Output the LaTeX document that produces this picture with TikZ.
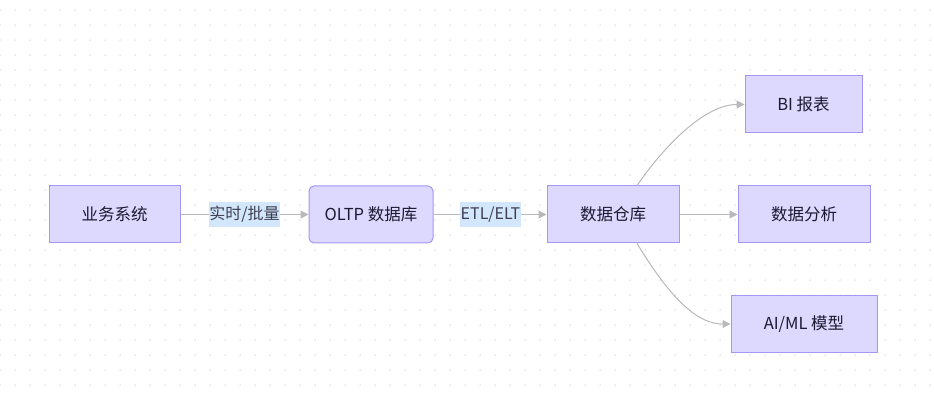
\documentclass[tikz,border=0pt]{standalone}
\usepackage{fontspec}
\setmainfont{Noto Sans CJK SC}
\usetikzlibrary{arrows.meta,calc}
\definecolor{boxfill}{HTML}{DCD8FE}
\definecolor{boxdraw}{HTML}{A297F4}
\definecolor{edgecol}{HTML}{B9B9BD}
\definecolor{lblfill}{HTML}{D2E7FC}
\definecolor{txtcol}{HTML}{1A1A30}
\definecolor{lbltxt}{HTML}{3E3E50}
\definecolor{gridcol}{HTML}{EAEAEA}
\tikzset{
  box/.style={draw=boxdraw, fill=boxfill, line width=1pt, minimum height=57pt,
    text=txtcol, font=\fontsize{16.5}{18}\selectfont, inner sep=0pt},
  rbox/.style={box, rounded corners=5pt},
  conn/.style={draw=edgecol, line width=1pt, -{Triangle[length=8pt,width=8pt]}},
  lbl/.style={fill=lblfill, text=lbltxt, font=\fontsize{16}{18}\selectfont,
    inner xsep=0.5pt, inner ysep=0pt, minimum height=25pt},
}
\begin{document}
\begin{tikzpicture}[x=1pt,y=-1pt]
\useasboundingbox (0,0) rectangle (934,395);
\fill[white] (0,0) rectangle (934,395);
\foreach \i in {0,...,62}{
  \foreach \j in {0,...,26}{
    \draw[gridcol, line width=0.6pt] ({\i*15-1.3},{10+\j*15}) -- ({\i*15+1.3},{10+\j*15})
      ({\i*15},{10+\j*15-1.3}) -- ({\i*15},{10+\j*15+1.3});
  }
}
\node[box, minimum width=131pt] (biz) at (114.5,214.5) {业务系统};
\node[rbox, minimum width=124pt] (oltp) at (371,214.5) {OLTP 数据库};
\node[box, minimum width=132pt] (dw) at (613,214.5) {数据仓库};
\node[box, minimum width=117pt] (bi) at (803.5,104.5) {BI 报表};
\node[box, minimum width=132pt] (ana) at (804,214.5) {数据分析};
\node[box, minimum width=146pt] (ai) at (804,324) {AI/ML 模型};

\draw[conn] (biz.east) -- (oltp.west);
\node[lbl] (l1) at (244.5,214.5) {实时/批量};
\draw[conn] (oltp.east) -- (dw.west);
\node[lbl] (l2) at (490.5,214.5) {ETL/ELT};
\draw[conn] (dw.east) -- (ana.west);
\coordinate (dwt) at ($(dw.north)+(24,0)$);
\coordinate (dwb) at ($(dw.south)+(24,0)$);
\draw[conn] (dwt) .. controls (665,145) and (705,104.5) .. (bi.west);
\draw[conn] (dwb) .. controls (662,284) and (691,324) .. (ai.west);
\end{tikzpicture}
\end{document}
